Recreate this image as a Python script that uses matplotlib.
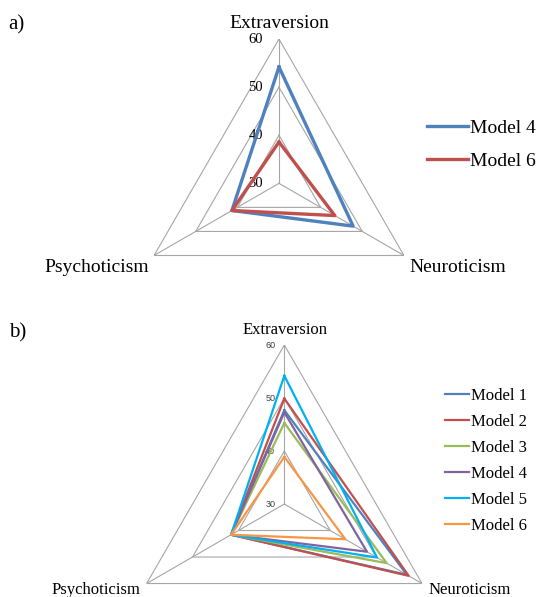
import numpy as np
import matplotlib
matplotlib.use("Agg")
import matplotlib.pyplot as plt

# veriler
traits = ["Extraversion", "Neuroticism", "Psychoticism"]
ring_levels = [40, 50, 60]
tick_levels = [30, 40, 50, 60]
r_min = 30
r_max = 60

a_models = ["Model 4", "Model 6"]
a_values = [
    [54.2, 47.8, 41.3],
    [38.6, 43.4, 41.3]
]
a_colors = ["#4F81BD", "#C0504D"]

b_models = ["Model 1", "Model 2", "Model 3", "Model 4", "Model 5", "Model 6"]
b_values = [
    [47.7, 56.7, 41.6],
    [49.9, 57.1, 41.6],
    [45.3, 52.3, 41.6],
    [47.3, 48.0, 41.6],
    [54.2, 50.2, 41.6],
    [38.9, 43.3, 41.6]
]
b_colors = ["#4F81BD", "#C0504D", "#9BBB59", "#8064A2", "#00B0F0", "#F79646"]

SERIF = "Liberation Serif"
GRID = "#A6A6A6"

fig = plt.figure(
    figsize=(5.39, 5.97),
    dpi=100
)

theta = np.linspace(0, 2 * np.pi, len(traits), endpoint=False)
theta_closed = np.append(theta, theta[0])


def make_radar(position):

    ax = fig.add_axes(position, projection="polar")
    ax.set_theta_zero_location("N")
    ax.set_theta_direction(-1)
    ax.set_ylim(r_min, r_max)
    ax.grid(False)
    ax.set_xticks([])
    ax.set_yticks([])
    ax.spines["polar"].set_visible(False)
    ax.patch.set_visible(False)

    for level in ring_levels:
        ax.plot(
            theta_closed,
            [level] * len(theta_closed),
            color=GRID,
            linewidth=0.8,
            zorder=1
        )

    for t in theta:
        ax.plot(
            [t, t],
            [r_min, r_max],
            color=GRID,
            linewidth=0.8,
            zorder=1
        )

    return ax


def trait_labels(ax, size, top_off, side_dx, side_dy):

    ax.annotate(
        traits[0], xy=(theta[0], r_max),
        xytext=(0.5, top_off), textcoords="offset points",
        ha="center", va="baseline",
        fontsize=size, family=SERIF
    )
    ax.annotate(
        traits[1], xy=(theta[1], r_max),
        xytext=(side_dx, -side_dy), textcoords="offset points",
        ha="left", va="baseline",
        fontsize=size, family=SERIF
    )
    ax.annotate(
        traits[2], xy=(theta[2], r_max),
        xytext=(-side_dx, -side_dy), textcoords="offset points",
        ha="right", va="baseline",
        fontsize=size, family=SERIF
    )


#
# a) panel
#
ax1 = make_radar([0.2499, 0.4512, 0.5354, 0.4834])

for name, vals, col in zip(a_models, a_values, a_colors):
    ax1.plot(
        theta_closed,
        vals + vals[:1],
        color=col,
        linewidth=2.4,
        label=name,
        zorder=3
    )

for level in tick_levels:
    ax1.annotate(
        str(level), xy=(0, level),
        xytext=(-11.5, 0), textcoords="offset points",
        ha="right", va="center",
        fontsize=10.5, family=SERIF, zorder=2
    )

trait_labels(ax1, 14, 8.2, 3.6, 11.9)

fig.legend(
    handles=ax1.get_lines()[-2:],
    loc="upper left",
    bbox_to_anchor=(0.792, 0.7998),
    frameon=False,
    borderpad=0,
    borderaxespad=0,
    handlelength=2.1,
    handletextpad=0.1,
    labelspacing=0.77,
    prop={"family": SERIF, "size": 14}
)

fig.text(0.016, 0.9514, "a)", fontsize=15, family=SERIF, va="baseline")

#
# b) panel
#
ax2 = make_radar([0.2325, -0.1106, 0.59, 0.5327])

for name, vals, col in zip(b_models, b_values, b_colors):
    ax2.plot(
        theta_closed,
        vals + vals[:1],
        color=col,
        linewidth=1.6,
        label=name,
        zorder=3
    )

for level in tick_levels:
    ax2.annotate(
        str(level), xy=(0, level),
        xytext=(-6.5, 0), textcoords="offset points",
        ha="right", va="center",
        fontsize=6.5, family="Liberation Sans",
        color="#404040", zorder=2
    )

trait_labels(ax2, 12, 7.6, 4.8, 7.6)

fig.legend(
    handles=ax2.get_lines()[-6:],
    loc="upper left",
    bbox_to_anchor=(0.8256, 0.350),
    frameon=False,
    borderpad=0,
    borderaxespad=0,
    handlelength=1.44,
    handletextpad=0.1,
    labelspacing=0.6,
    prop={"family": SERIF, "size": 12}
)

fig.text(0.016, 0.4355, "b)", fontsize=15, family=SERIF, va="baseline")

plt.savefig(
    "out.png",
    dpi=100
)
plt.close()
